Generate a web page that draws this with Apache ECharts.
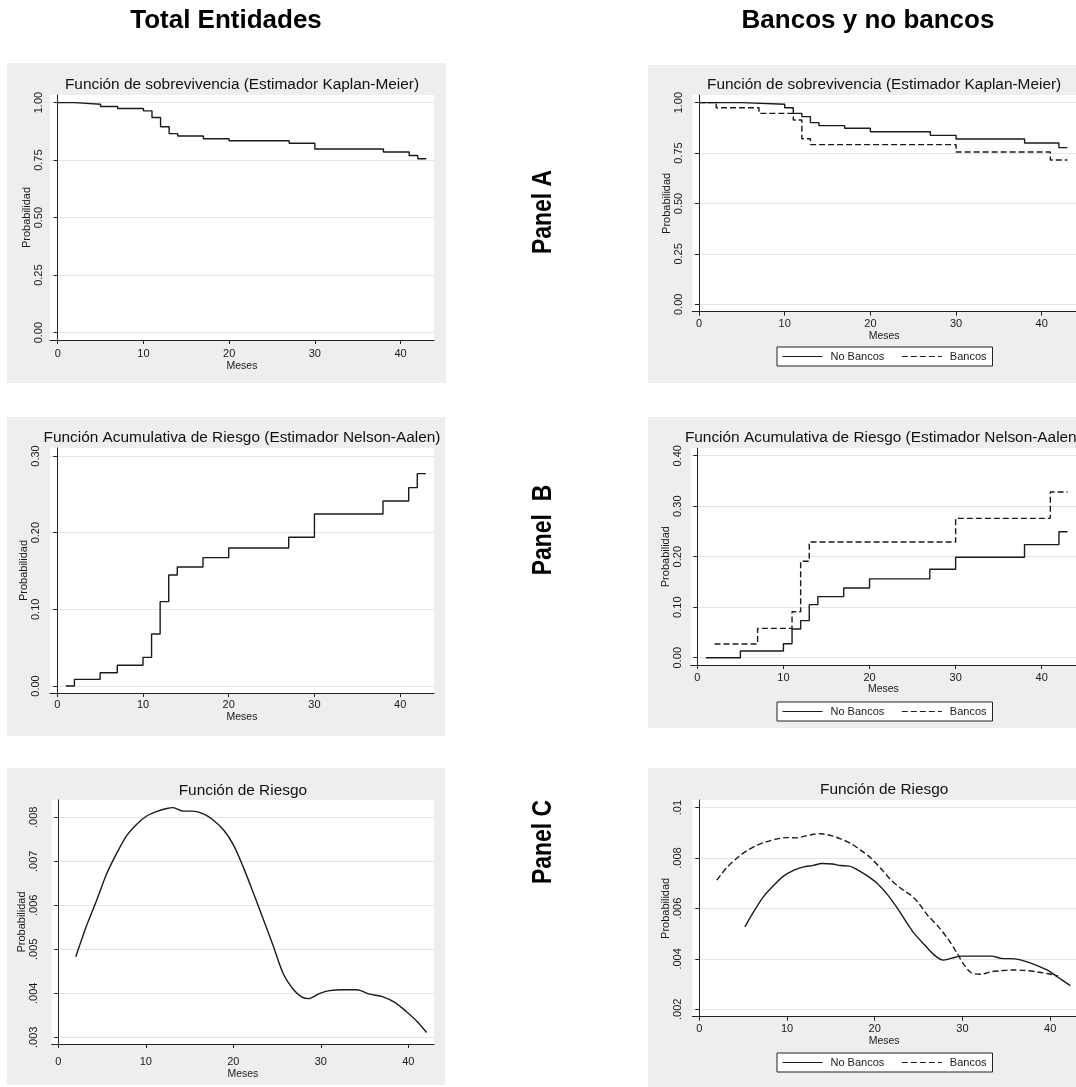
<!DOCTYPE html>
<html>
<head>
<meta charset="utf-8">
<script src="https://cdn.jsdelivr.net/npm/echarts@6/dist/echarts.min.js"></script>
<style>
  html, body { margin: 0; padding: 0; background: #fff; }
  #chart { width: 1076px; height: 1087px; }
</style>
</head>
<body>
<div id="chart"></div>
<script>
// tick labels
const mesesTicks = [0, 10, 20, 30, 40];
const kmTicks = [0, 0.25, 0.5, 0.75, 1];
const naTotalTicks = [0, 0.1, 0.2, 0.3];
const naGroupTicks = [0, 0.1, 0.2, 0.3, 0.4];
const hazTotalTicks = [0.003, 0.004, 0.005, 0.006, 0.007, 0.008];
const hazGroupTicks = [0.002, 0.004, 0.006, 0.008, 0.01];
const groups = ["No Bancos", "Bancos"];

// Panel A: Kaplan-Meier [mes, probabilidad]
const kmTotal = [[0, 1.000], [2, 0.993], [5, 0.983], [7, 0.974], [10, 0.964], [11, 0.935], [12, 0.895],
  [13, 0.865], [14, 0.855], [17, 0.843], [20, 0.834], [27, 0.823], [30, 0.798], [38, 0.785],
  [41, 0.770], [42, 0.756], [43, 0.756]];
const kmNoBancos = [[0, 1.000], [5, 0.992], [10, 0.975], [11, 0.947], [12, 0.931], [13, 0.901],
  [14, 0.886], [17, 0.873], [20, 0.856], [27, 0.838], [30, 0.820], [38, 0.800], [42, 0.777], [43, 0.777]];
const kmBancos = [[0, 1.000], [2, 0.975], [7, 0.947], [11, 0.914], [12, 0.821], [13, 0.792],
  [30, 0.755], [41, 0.716], [43, 0.716]];

// Panel B: Nelson-Aalen
const naTotal = [[1, 0.000], [2, 0.0087], [5, 0.0174], [7, 0.027], [10, 0.0374], [11, 0.0678],
  [12, 0.110], [13, 0.1448], [14, 0.1552], [17, 0.1674], [20, 0.180], [27, 0.194], [30, 0.2243],
  [38, 0.2413], [41, 0.2587], [42, 0.277], [43, 0.277]];
const naNoBancos = [[1, 0.000], [5, 0.0132], [10, 0.0277], [11, 0.0568], [12, 0.0733], [13, 0.105],
  [14, 0.121], [17, 0.138], [20, 0.156], [27, 0.175], [30, 0.199], [38, 0.224], [42, 0.2495], [43, 0.2495]];
const naBancos = [[2, 0.027], [7, 0.058], [11, 0.091], [12, 0.191], [13, 0.229], [30, 0.276],
  [41, 0.328], [43, 0.328]];

// Panel C: funcion de riesgo
const hazTotal = [[2.0, 0.00483], [3.2, 0.00552], [4.4, 0.00612], [5.5, 0.00670], [6.7, 0.00719],
  [7.8, 0.00758], [9.0, 0.00785], [10.1, 0.00803], [11.2, 0.00813], [12.4, 0.00820], [13.1, 0.00822],
  [14.3, 0.00814], [15.4, 0.00814], [16.6, 0.00808], [17.7, 0.00794], [18.9, 0.00771], [20.0, 0.00738],
  [21.1, 0.00689], [22.3, 0.00628], [23.4, 0.00570], [24.6, 0.00506], [25.7, 0.00445], [26.9, 0.00408],
  [27.8, 0.00392], [28.6, 0.00388], [29.9, 0.00400], [31.0, 0.00406], [32.6, 0.00408], [34.1, 0.00408],
  [35.6, 0.00398], [37.1, 0.00392], [38.5, 0.00379], [39.8, 0.00358], [41.0, 0.00336], [42.1, 0.00311]];
const hazNoBancos = [[5.2, 0.00527], [6.2, 0.00587], [7.3, 0.00646], [8.5, 0.00692], [9.6, 0.00728],
  [10.8, 0.00752], [11.9, 0.00765], [12.9, 0.00770], [14.0, 0.00778], [15.2, 0.00776], [16.1, 0.00770],
  [17.1, 0.00768], [18.0, 0.00754], [19.2, 0.00728], [20.3, 0.00699], [21.5, 0.00653], [22.6, 0.00600],
  [23.7, 0.00541], [24.5, 0.00501], [25.7, 0.00455], [26.8, 0.00415], [27.8, 0.00395], [28.7, 0.00402],
  [29.9, 0.00411], [31.4, 0.00411], [33.3, 0.00411], [34.4, 0.00402], [36.0, 0.00400], [37.1, 0.00391],
  [38.6, 0.00372], [39.8, 0.00353], [40.9, 0.00327], [42.3, 0.00294]];
const hazBancos = [[2.0, 0.00712], [3.1, 0.00761], [4.3, 0.00800], [5.4, 0.00828], [6.6, 0.00851],
  [7.7, 0.00865], [8.9, 0.00876], [10.0, 0.00881], [11.2, 0.00880], [11.9, 0.00886], [13.1, 0.00894],
  [13.8, 0.00896], [15.0, 0.00889], [16.1, 0.00876], [17.3, 0.00857], [18.4, 0.00831], [19.5, 0.00802],
  [20.7, 0.00758], [21.8, 0.00715], [23.0, 0.00679], [24.1, 0.00653], [24.9, 0.00626], [26.0, 0.00574],
  [27.2, 0.00530], [28.3, 0.00481], [29.3, 0.00428], [30.2, 0.00376], [31.0, 0.00345], [32.1, 0.00339],
  [33.3, 0.00349], [34.4, 0.00353], [35.6, 0.00356], [37.1, 0.00354], [38.6, 0.00348], [39.8, 0.00341],
  [40.9, 0.00332]];

const FONT = "Liberation Sans";
const INK = "#1a1a1a";

const fmt2 = v => v.toFixed(2);
const fmtHaz = v => String(+v.toFixed(3)).replace(/^0/, "");

// layout of the six plot regions: [left, top, width, height]
const panels = [
  { box: [7, 63, 439, 320], grid: [50, 95, 384, 245], x: [-0.9, 43.9], y: [-0.032, 1.033], ticks: kmTicks, fmt: fmt2,
    ylm: 6, yng: 17.5, xlm: 8.5, xng: 19, title: "Función de sobrevivencia (Estimador Kaplan-Meier)", ty: 85 },
  { box: [7, 417, 438, 319], grid: [50, 448, 384, 245], x: [-0.85, 43.95], y: [-0.0091, 0.3104], ticks: naTotalTicks, fmt: fmt2,
    ylm: 9, yng: 17.5, xlm: 6.5, xng: 18.5, title: "Función Acumulativa de Riesgo (Estimador Nelson-Aalen)", ty: 438 },
  { box: [7, 768, 438, 317], grid: [51.7, 800, 382.3, 244], x: [-0.75, 42.94], y: [0.002848, 0.008393], ticks: hazTotalTicks, fmt: fmtHaz,
    ylm: 12, yng: 19, xlm: 12.5, xng: 23, title: "Función de Riesgo", ty: 791 },
  { box: [648, 65, 428, 318], grid: [692.3, 95, 383.7, 216.7], x: [-0.787, 44.0], y: [-0.0367, 1.038], ticks: kmTicks, fmt: fmt2,
    ylm: 8, yng: 18.5, xlm: 7, xng: 17, title: "Función de sobrevivencia (Estimador Kaplan-Meier)", ty: 85 },
  { box: [648, 417, 428, 311], grid: [690.7, 448.3, 385.3, 216.7], x: [-0.77, 43.98], y: [-0.0145, 0.4147], ticks: naGroupTicks, fmt: fmt2,
    ylm: 7, yng: 17, xlm: 7, xng: 17, title: "Función Acumulativa de Riesgo (Estimador Nelson-Aalen)", ty: 438 },
  { box: [648, 768, 428, 319], grid: [692.3, 800, 383.7, 216.7], x: [-0.8, 42.95], y: [0.001707, 0.0103], ticks: hazGroupTicks, fmt: fmtHaz,
    ylm: 9, yng: 18.5, xlm: 7, xng: 18, title: "Función de Riesgo", ty: 790 }
];

const grids = [], xAxes = [], yAxes = [], graphics = [];
panels.forEach((p, i) => {
  const [l, t, w, h] = p.grid;
  grids.push({ left: l, top: t, width: w, height: h, show: true, backgroundColor: "#fff", borderWidth: 0 });
  xAxes.push({
    type: "value", gridIndex: i, min: p.x[0], max: p.x[1], position: "bottom",
    name: "Meses", nameLocation: "middle", nameGap: p.xng,
    nameTextStyle: { fontFamily: FONT, fontSize: 10.5, color: INK },
    axisLine: { onZero: false, lineStyle: { color: "#222", width: 1 } },
    axisTick: { length: 4, lineStyle: { color: "#222" }, customValues: mesesTicks },
    axisLabel: { margin: p.xlm, fontFamily: FONT, fontSize: 11, color: INK, customValues: mesesTicks },
    splitLine: { show: false }
  });
  yAxes.push({
    type: "value", gridIndex: i, min: p.y[0], max: p.y[1], position: "left",
    name: "Probabilidad", nameLocation: "middle", nameRotate: 90, nameGap: p.yng,
    nameTextStyle: { fontFamily: FONT, fontSize: 11, color: INK },
    axisLine: { show: true, lineStyle: { color: "#222", width: 1 } },
    axisTick: { show: true, length: 4, lineStyle: { color: "#222" }, customValues: p.ticks },
    axisLabel: { rotate: 90, margin: p.ylm, fontFamily: FONT, fontSize: 11, color: INK,
      customValues: p.ticks, formatter: p.fmt },
    splitLine: { show: true, lineStyle: { color: "#e4e4e4", width: 1 } }
  });
  graphics.push({ type: "rect", z: -100, shape: { x: p.box[0], y: p.box[1], width: p.box[2], height: p.box[3] },
    style: { fill: "#eeeeee" } });
  graphics.push({ type: "text", z: 100, x: l + w / 2, y: p.ty,
    style: { text: p.title, font: "15.4px '" + FONT + "'", fill: "#111", textAlign: "center", textVerticalAlign: "middle" } });
});

// column headers and panel labels
graphics.push({ type: "text", z: 100, x: 226, y: 21,
  style: { text: "Total Entidades", font: "bold 26px '" + FONT + "'", fill: "#000", textAlign: "center", textVerticalAlign: "middle" } });
graphics.push({ type: "text", z: 100, x: 868, y: 21,
  style: { text: "Bancos y no bancos", font: "bold 26px '" + FONT + "'", fill: "#000", textAlign: "center", textVerticalAlign: "middle" } });
[["Panel A", 212], ["Panel  B", 530], ["Panel C", 842]].forEach(([txt, y]) => {
  graphics.push({ type: "text", z: 100, x: 543, y: y, rotation: Math.PI / 2, scaleX: 0.82,
    style: { text: txt, font: "bold 28px '" + FONT + "'", fill: "#000", textAlign: "center", textVerticalAlign: "middle" } });
});

function line(name, data, gi, dashed, step) {
  return {
    name: name, type: "line", xAxisIndex: gi, yAxisIndex: gi, data: data,
    step: step ? "end" : false, smooth: step ? false : 0.3,
    symbol: "none", showSymbol: false, silent: true,
    color: INK,
    lineStyle: { color: INK, width: 1.4, type: dashed ? [6, 3] : "solid" }
  };
}

const series = [
  line("Total", kmTotal, 0, false, true),
  line("Total", naTotal, 1, false, true),
  line("Total", hazTotal, 2, false, false),
  line(groups[0], kmNoBancos, 3, false, true),
  line(groups[1], kmBancos, 3, true, true),
  line(groups[0], naNoBancos, 4, false, true),
  line(groups[1], naBancos, 4, true, true),
  line(groups[0], hazNoBancos, 5, false, false),
  line(groups[1], hazBancos, 5, true, false)
];

const legends = [347, 702, 1053].map(top => ({
  data: groups, left: 777, top: top, orient: "horizontal",
  padding: [4, 6, 4, 5], itemWidth: 40, itemHeight: 2, itemGap: 17,
  itemStyle: { opacity: 0 },
  lineStyle: { width: 1 },
  borderColor: "#222", borderWidth: 1, borderRadius: 0, backgroundColor: "#fff",
  selectedMode: false,
  textStyle: { fontFamily: FONT, fontSize: 11, color: INK, padding: [0, 0, 0, 3] }
}));

const chart = echarts.init(document.getElementById("chart"));
chart.setOption({
  backgroundColor: "#fff",
  animation: false,
  textStyle: { fontFamily: FONT },
  grid: grids,
  xAxis: xAxes,
  yAxis: yAxes,
  legend: legends,
  graphic: { elements: graphics },
  series: series
});
</script>
</body>
</html>
